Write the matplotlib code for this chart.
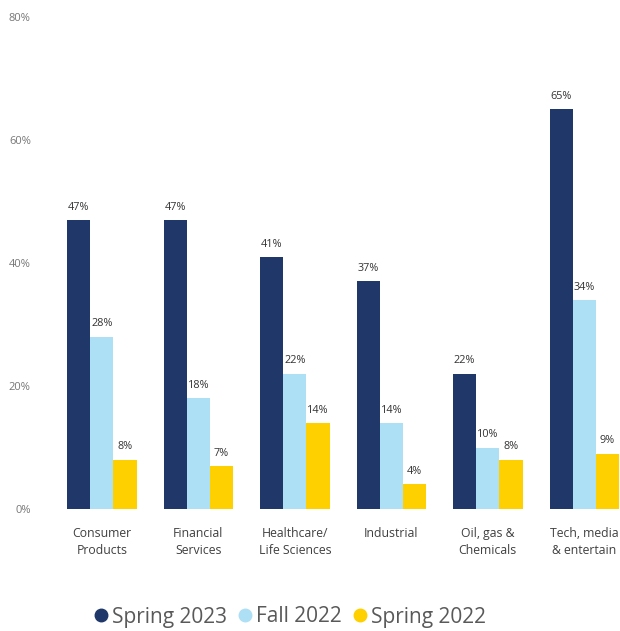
import numpy as np
import matplotlib.pyplot as plt
from matplotlib.lines import Line2D

plt.rcParams['font.family'] = ['Open Sans', 'DejaVu Sans']

# Survey results by sector (%)
sectors = ["Consumer\nProducts", "Financial\nServices", "Healthcare/\nLife Sciences",
           "Industrial", "Oil, gas &\nChemicals", "Tech, media\n& entertain"]
spring_2023 = [47, 47, 41, 37, 22, 65]
fall_2022 = [28, 18, 22, 14, 10, 34]
spring_2022 = [8, 7, 14, 4, 8, 9]

series = ["Spring 2023", "Fall 2022", "Spring 2022"]
colors = ["#1F3869", "#ADDFF5", "#FFD000"]

fig = plt.figure(figsize=(6.2, 6.31), dpi=100)
ax = fig.add_axes([44 / 620, 0.1933, 1 - 44 / 620, 0.7797])

x = np.arange(len(sectors))
w = 0.24
for k, (vals, col) in enumerate(zip([spring_2023, fall_2022, spring_2022], colors)):
    pos = x + (k - 1) * w
    ax.bar(pos, vals, width=w, color=col, linewidth=0)
    for p, v in zip(pos, vals):
        ax.text(p, v + 1.2, f"{v}%", ha="center", va="bottom", fontsize=7.8, color="#333333")

ax.set_xlim(-0.6, 5.37)
ax.set_ylim(0, 80)
ax.set_yticks([0, 20, 40, 60, 80])
ax.set_yticklabels([f"{t}%" for t in [0, 20, 40, 60, 80]])
ax.tick_params(axis="y", length=0, pad=9.5, labelsize=8, labelcolor="#777777")

ax.set_xticks(x)
ax.set_xticklabels(sectors, fontsize=8.8, color="#404040", linespacing=1.35)
ax.tick_params(axis="x", length=0, pad=13)

for s in ax.spines.values():
    s.set_visible(False)

handles = [Line2D([], [], marker="o", linestyle="none", markersize=9,
                  markerfacecolor=c, markeredgecolor=c) for c in colors]
fig.legend(handles, series, loc="center", bbox_to_anchor=(290 / 620, 1 - 617 / 631),
           ncol=3, frameon=False, fontsize=15, handletextpad=0.2, columnspacing=0.5,
           labelcolor="#595959", handlelength=0.7)

fig.savefig("out.png", dpi=100)
